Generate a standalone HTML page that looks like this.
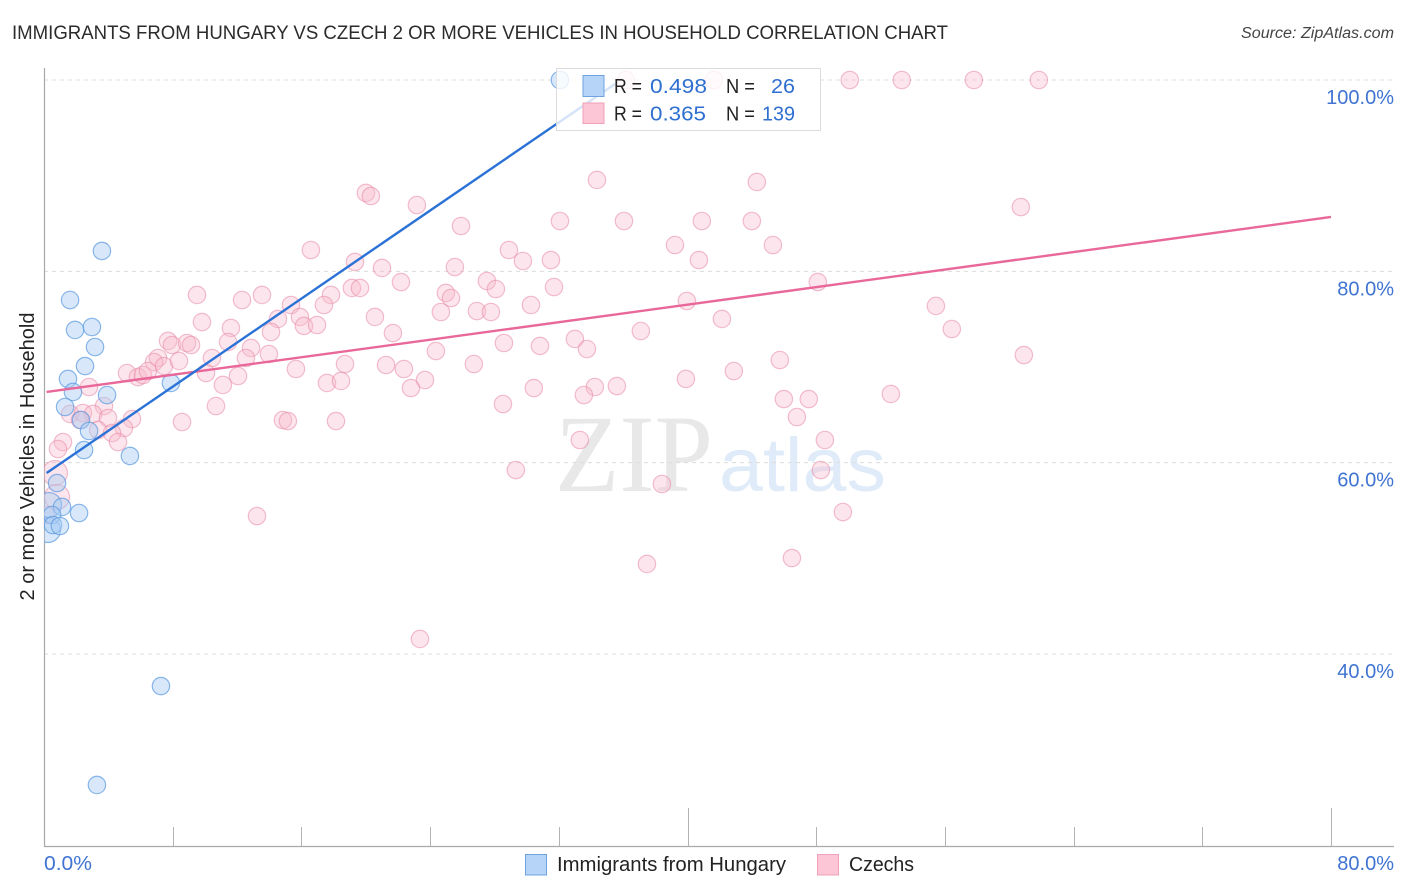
<!DOCTYPE html>
<html lang="en">
<head>
<meta charset="utf-8">
<title>Immigrants from Hungary vs Czech 2 or more Vehicles in Household Correlation Chart</title>
<style>
html,body{margin:0;padding:0;background:#fff;width:1406px;height:892px;overflow:hidden}
svg{display:block;font-family:"Liberation Sans",sans-serif}
</style>
</head>
<body>
<svg id="chart" xmlns="http://www.w3.org/2000/svg" width="1406" height="892" viewBox="0 0 1406 892">
  <defs>
    <clipPath id="plot-clip"><rect x="44" y="60" width="1350" height="786"/></clipPath>
  </defs>
  <text x="12" y="39" font-size="19.5" fill="#2b2b2b" textLength="936" lengthAdjust="spacingAndGlyphs">IMMIGRANTS FROM HUNGARY VS CZECH 2 OR MORE VEHICLES IN HOUSEHOLD CORRELATION CHART</text>
  <text x="1241" y="38" font-size="15.5" font-style="italic" fill="#444" textLength="153" lengthAdjust="spacingAndGlyphs">Source: ZipAtlas.com</text>

  <g>
    <text x="555" y="491" font-family="'Liberation Serif',serif" font-size="110" fill="#e8e8e8" textLength="158" lengthAdjust="spacingAndGlyphs">ZIP</text>
    <text x="719" y="491" font-size="76" fill="#e0ebf9" textLength="167" lengthAdjust="spacingAndGlyphs">atlas</text>
  </g>

  <g id="grid"></g>
  <g id="axes"></g>
  <g id="points" clip-path="url(#plot-clip)"></g>
  <g id="trends"></g>

  <text transform="translate(34,456.5) rotate(-90)" font-size="20" fill="#222" text-anchor="middle">2 or more Vehicles in Household</text>

  <g>
    <rect x="556.5" y="68.5" width="264" height="62" fill="#fff" fill-opacity="0.8" stroke="#dcdcdc" stroke-width="1"/>
    <rect x="583" y="75.5" width="21" height="21" fill="#b6d3f8" stroke="#6fa3e0" stroke-width="1"/>
    <rect x="583" y="103" width="21" height="20.5" fill="#fcc6d7" stroke="#f0a0b8" stroke-width="1"/>
    <text x="614" y="93" font-size="20" fill="#222" textLength="28" lengthAdjust="spacingAndGlyphs">R =</text>
    <text x="650" y="93" font-size="20.5" fill="#2f6fd0" textLength="57" lengthAdjust="spacingAndGlyphs">0.498</text>
    <text x="726" y="93" font-size="20" fill="#222" textLength="29" lengthAdjust="spacingAndGlyphs">N =</text>
    <text x="771" y="93" font-size="20.5" fill="#2f6fd0" textLength="24" lengthAdjust="spacingAndGlyphs">26</text>
    <text x="614" y="120.5" font-size="20" fill="#222" textLength="28" lengthAdjust="spacingAndGlyphs">R =</text>
    <text x="650" y="120.5" font-size="20.5" fill="#2f6fd0" textLength="56" lengthAdjust="spacingAndGlyphs">0.365</text>
    <text x="726" y="120.5" font-size="20" fill="#222" textLength="29" lengthAdjust="spacingAndGlyphs">N =</text>
    <text x="762" y="120.5" font-size="20.5" fill="#2f6fd0" textLength="33" lengthAdjust="spacingAndGlyphs">139</text>
  </g>

  <g>
    <rect x="525.5" y="854.5" width="21" height="20.5" fill="#b6d3f8" stroke="#6fa3e0" stroke-width="1"/>
    <text x="557" y="871" font-size="20" fill="#222" textLength="229" lengthAdjust="spacingAndGlyphs">Immigrants from Hungary</text>
    <rect x="817.5" y="854.5" width="21" height="20.5" fill="#fcc6d7" stroke="#f0a0b8" stroke-width="1"/>
    <text x="849" y="871" font-size="20" fill="#222" textLength="65" lengthAdjust="spacingAndGlyphs">Czechs</text>
  </g>
</svg>

<script>
const yTickValues = [100, 80, 60, 40];
const yTickLabels = ["100.0%", "80.0%", "60.0%", "40.0%"];
const xTickValues = [0, 8, 16, 24, 32, 40, 48, 56, 64, 72, 80];
const xMajorTicks = [40, 80];
const xEndLabels = ["0.0%", "80.0%"];

const hungaryX = [32.07,3.6,1.62,1.93,2.98,3.17,2.55,1.49,1.8,3.92,7.89,1.31,2.3,2.8,2.49,5.34,0.81,1.12,2.18,0.5,0.56,0.99,7.27,3.29];
const hungaryY = [100,82.13,77,73.87,74.18,72.09,70.1,68.75,67.39,67.07,68.33,65.82,64.46,63.31,61.32,60.7,57.87,55.37,54.74,54.53,53.48,53.38,36.65,26.31];
const hungaryLargeX = [0.25,0.31];
const hungaryLargeY = [52.96,55.57];

const czechsX = [36.17,41.64,50.09,53.32,57.8,61.84,34.37,44.31,20.01,20.32,23.18,60.72,25.92,32.07,36.05,40.89,44,16.59,39.22,45.31,28.9,29.77,31.51,40.71,19.33,21.01,25.54,22.19,27.53,28.09,48.1,19.14,19.64,31.7,9.51,12.31,13.55,17.84,24.98,25.3,15.35,17.4,30.27,39.96,55.44,24.67,26.91,27.78,20.57,42.14,14.54,15.91,16.16,16.97,9.82,11.62,56.43,37.1,14.11,21.69,11.44,7.71,7.96,8.89,9.14,12.87,28.59,33,33.75,30.83,24.36,60.91,13.98,12.55,10.44,7.09,6.84,7.46,8.39,45.74,18.71,21.26,26.72,22.37,15.66,42.88,10.07,12.06,5.16,5.84,6.15,6.46,17.59,18.46,23.68,39.9,11.12,22.81,34.24,35.61,30.45,2.8,33.56,28.53,45.99,47.54,52.64,3.73,10.69,1.62,2.42,3.05,2.24,3.98,5.47,46.8,14.85,15.16,18.15,8.58,3.36,4.97,4.23,4.6,1.18,0.87,48.54,33.31,29.33,48.29,38.41,49.66,13.24,46.49,37.48,23.37,0.12];
const czechsY = [100,100,100,100,100,100,89.55,89.34,88.19,87.87,86.93,86.72,84.74,85.26,85.26,85.26,85.26,82.23,82.75,82.75,82.23,81.08,81.18,81.18,80.98,80.35,80.45,78.88,78.99,78.15,78.88,78.26,78.26,78.36,77.53,77,77.53,77.53,77.74,77.21,76.48,76.48,76.48,76.9,76.38,75.75,75.85,75.75,75.23,75.02,75.02,75.23,74.29,74.39,74.7,74.08,73.97,73.76,73.66,73.55,72.61,72.72,72.3,72.51,72.3,71.99,72.51,72.93,71.88,72.2,71.67,71.25,71.36,70.94,70.94,70.94,70.52,70.1,70.63,70.73,70.31,70.21,70.31,69.79,69.79,69.58,69.37,69.06,69.37,68.95,69.16,69.58,68.33,68.54,68.64,68.75,68.12,67.8,67.91,68.01,67.8,67.91,67.07,66.13,66.65,66.65,67.18,65.92,65.92,65.09,65.19,65.09,64.46,64.67,64.56,64.77,64.46,64.35,64.35,64.25,63.41,63.62,63.1,62.16,62.16,61.43,62.37,62.37,59.23,59.23,57.77,54.84,54.42,50.03,49.41,41.57,54.53];
const czechsLargeX = [0.68,0.81];
const czechsLargeY = [58.92,56.41];

const hungaryTrendX = [0.16,35.49];
const hungaryTrendY = [58.92,99.58];
const czechsTrendX = [0.16,80];
const czechsTrendY = [67.39,85.68];

const NS = 'http://www.w3.org/2000/svg';
const plotLeft = 44, plotBottom = 846, plotRight = 1394, plotTop = 68;
function xScale(v) { return 44 + v * 16.0875; }
function yScale(v) { return 80 + (100 - v) * 9.5667; }
function make(tag, attrs, parent) {
  const el = document.createElementNS(NS, tag);
  for (const k in attrs) el.setAttribute(k, attrs[k]);
  parent.appendChild(el);
  return el;
}

const gridLayer = document.getElementById('grid');
const axesLayer = document.getElementById('axes');
const pointLayer = document.getElementById('points');
const trendLayer = document.getElementById('trends');

yTickValues.forEach((v, i) => {
  const line = make('line', {x1: plotLeft, x2: plotRight, y1: yScale(v), y2: yScale(v), stroke: '#dcdcdc', 'stroke-width': 1, 'stroke-dasharray': '4 4'}, gridLayer);
  
  
  const label = make('text', {x: plotRight, y: yScale(v) + 24, 'font-size': 20, fill: '#3f74d2', 'text-anchor': 'end'}, axesLayer);
  label.textContent = yTickLabels[i];
  
  
});

const yAxisLine = make('line', {x1: plotLeft + 0.5, x2: plotLeft + 0.5, y1: plotTop, y2: plotBottom, stroke: '#a8a8a8', 'stroke-width': 1.2}, axesLayer);


const xAxisLine = make('line', {x1: plotLeft, x2: plotRight, y1: plotBottom + 0.5, y2: plotBottom + 0.5, stroke: '#a8a8a8', 'stroke-width': 1.2}, axesLayer);



xTickValues.forEach(v => {
  if (v === 0) return;
  const major = xMajorTicks.includes(v);
  const px = Math.round(xScale(v)) + 0.5;
  const tick = make('line', {x1: px, x2: px, y1: plotBottom, y2: major ? 808 : 827, stroke: '#b4b4b4', 'stroke-width': 1}, axesLayer);
  
  
});

const xLabelStart = make('text', {x: plotLeft, y: 870, 'font-size': 20, fill: '#3f74d2', textLength: 48, lengthAdjust: 'spacingAndGlyphs'}, axesLayer);
xLabelStart.textContent = xEndLabels[0];


const xLabelEnd = make('text', {x: plotRight, y: 870, 'font-size': 20, fill: '#3f74d2', 'text-anchor': 'end'}, axesLayer);
xLabelEnd.textContent = xEndLabels[1];



const blueStyle = {fill: '#a9cbf5', 'fill-opacity': 0.45, stroke: '#5b9ae0', 'stroke-opacity': 0.7, 'stroke-width': 1.2};
const pinkStyle = {fill: '#f8bacd', 'fill-opacity': 0.38, stroke: '#e88aa8', 'stroke-opacity': 0.55, 'stroke-width': 1.2};

function drawPoints(xs, ys, r, style, name) {
  xs.forEach((x, i) => {
    const c = make('circle', Object.assign({cx: xScale(x), cy: yScale(ys[i]), r: r}, style), pointLayer);
    
    
  });
}
drawPoints(czechsLargeX, czechsLargeY, 12.5, pinkStyle, 'czechs-point-large');
drawPoints(czechsX, czechsY, 8.7, pinkStyle, 'czechs-point');
drawPoints(hungaryLargeX, hungaryLargeY, 12.5, blueStyle, 'hungary-point-large');
drawPoints(hungaryX, hungaryY, 8.7, blueStyle, 'hungary-point');

const czechsTrend = make('line', {x1: xScale(czechsTrendX[0]), y1: yScale(czechsTrendY[0]), x2: xScale(czechsTrendX[1]), y2: yScale(czechsTrendY[1]), stroke: '#e9689a', 'stroke-width': 2.4}, trendLayer);


const hungaryTrend = make('line', {x1: xScale(hungaryTrendX[0]), y1: yScale(hungaryTrendY[0]), x2: xScale(hungaryTrendX[1]), y2: yScale(hungaryTrendY[1]), stroke: '#2b72d6', 'stroke-width': 2.4}, trendLayer);


</script>
</body>
</html>
